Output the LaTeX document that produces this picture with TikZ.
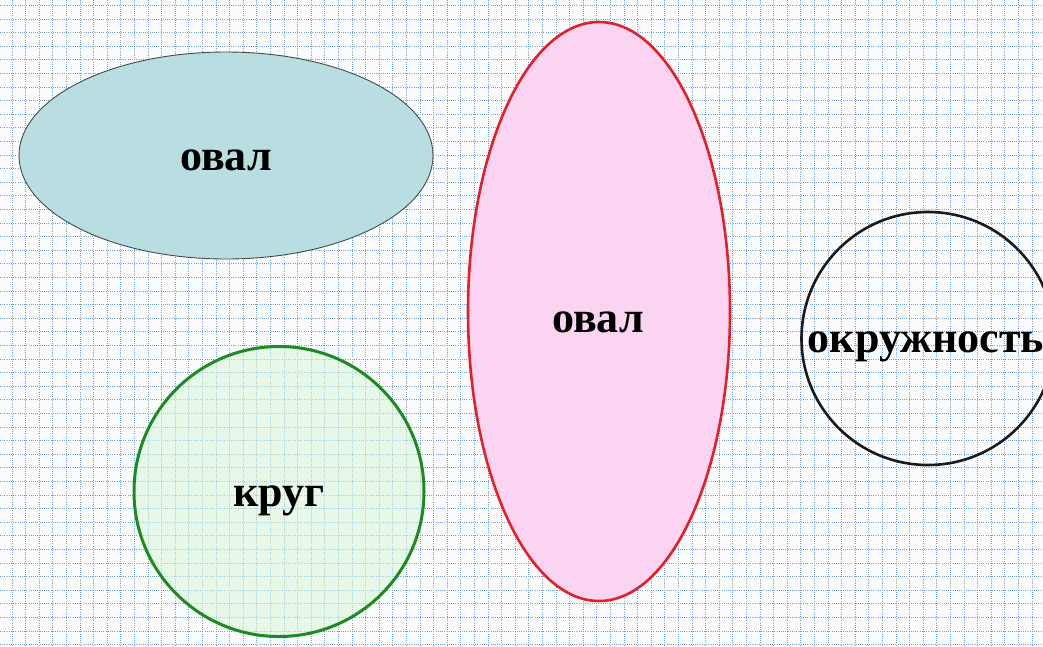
\documentclass[tikz,border=0pt]{standalone}
\usepackage{fontspec}
\setmainfont{Liberation Serif}
\definecolor{bgc}{HTML}{FBFCFD}
\definecolor{gridc}{HTML}{6FA2D6}
\definecolor{ovalfill}{HTML}{B8DEE2}
\definecolor{pinkfill}{HTML}{FAD4F1}
\definecolor{redline}{HTML}{E3202A}
\definecolor{greenfill}{HTML}{D8F5D8}
\definecolor{greenline}{HTML}{1E8A22}
\definecolor{darkline}{HTML}{1A1A1A}
\begin{document}
\begin{tikzpicture}[x=1pt,y=-1pt,
  lbl/.style={font=\fontsize{44}{48}\selectfont\bfseries, inner sep=0pt},
  gridline/.style={draw=gridc, line width=1pt, dash pattern=on 1pt off 1.2pt}]
\useasboundingbox (0,0) rectangle (1043,646);
\clip (0,0) rectangle (1043,646);
\fill[bgc] (0,0) rectangle (1043,646);
\foreach \i in {0,...,77} {
  \draw[gridline] ({12+13.6*\i},0) -- ({12+13.6*\i},646);
}
\foreach \j in {0,...,47} {
  \draw[gridline] (0,{5.5+13.6*\j}) -- (1043,{5.5+13.6*\j});
}
% shapes
\draw[fill=ovalfill, draw=darkline!80, line width=0.9pt] (226,155.5) ellipse [x radius=207, y radius=103.5];
\draw[fill=pinkfill, draw=redline, line width=2.6pt] (599,311.5) ellipse [x radius=131, y radius=289.5];
\draw[fill=greenfill, fill opacity=0.55, draw=greenline, line width=3pt] (279,491.5) circle [radius=145];
\draw[draw=darkline, line width=2.6pt] (928,338.5) circle [radius=126.5];
% labels
\node[lbl] (o1) at (226,160) {овал};
\node[lbl] (o2) at (598,322) {овал};
\node[lbl] (k) at (279,501) {круг};
\node[lbl] (okr) at (926,347) {окружность};
\end{tikzpicture}
\end{document}
